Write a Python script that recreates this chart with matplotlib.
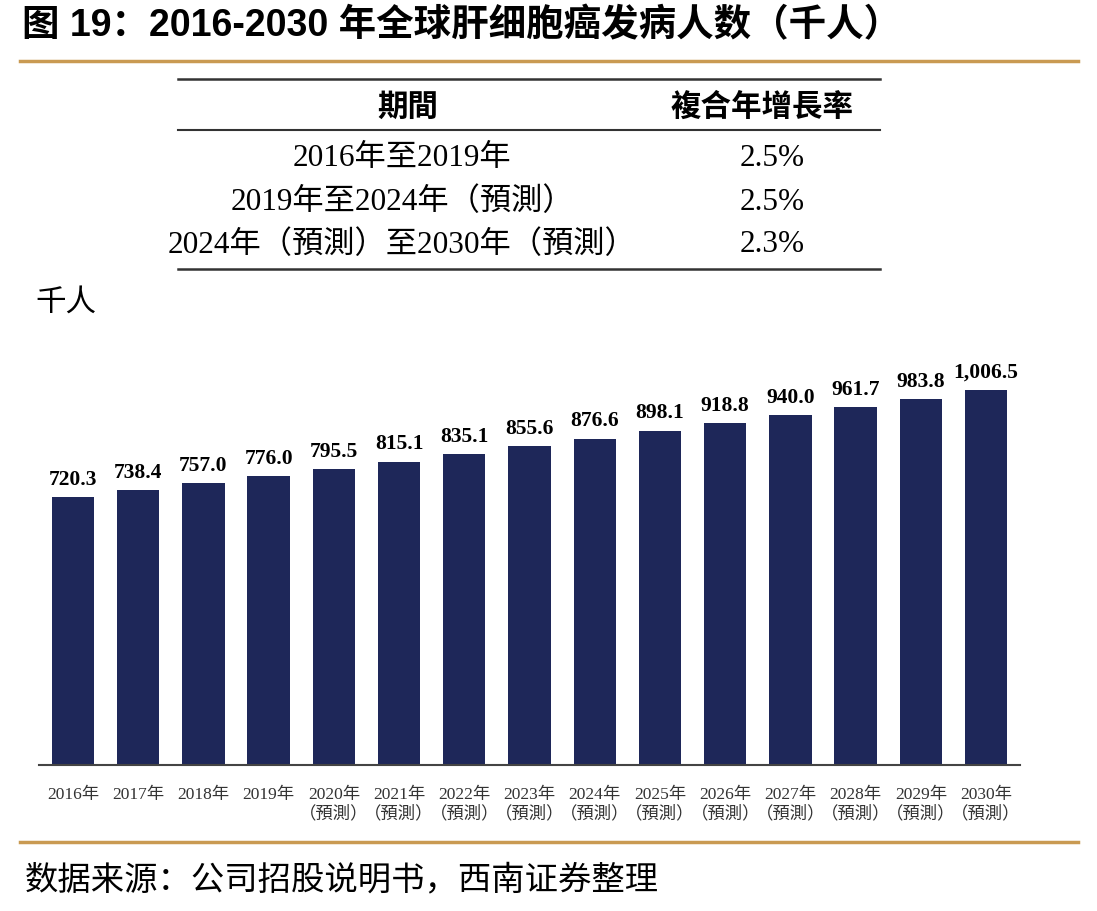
import matplotlib
matplotlib.use("Agg")
import matplotlib.pyplot as plt
from matplotlib.lines import Line2D

years = ["2016年", "2017年", "2018年", "2019年", "2020年", "2021年", "2022年", "2023年",
         "2024年", "2025年", "2026年", "2027年", "2028年", "2029年", "2030年"]
forecast = [False, False, False, False, True, True, True, True, True, True, True, True, True, True, True]
values = [720.3, 738.4, 757.0, 776.0, 795.5, 815.1, 835.1, 855.6, 876.6, 898.1,
          918.8, 940.0, 961.7, 983.8, 1006.5]

table_header = ["期間", "複合年增長率"]
table_periods = ["2016年至2019年", "2019年至2024年（預測）", "2024年（預測）至2030年（預測）"]
table_cagr = ["2.5%", "2.5%", "2.3%"]

title = "图 19：2016-2030 年全球肝细胞癌发病人数（千人）"
unit = "千人"
source = "数据来源：公司招股说明书，西南证券整理"

W, H = 1097, 912
fig = plt.figure(figsize=(W / 100, H / 100), dpi=100)

def fx(px):
    return px / W

def fy(py):
    return 1 - py / H

SERIF = ["Liberation Serif", "Noto Sans CJK TC"]
SANS_B = ["Liberation Sans", "Noto Sans CJK SC"]
GOLD = "#C99A52"
NAVY = "#1E2759"

# Title
fig.text(fx(22), fy(26), title, fontsize=27, fontweight="bold", family=SANS_B,
         ha="left", va="center", color="black")
fig.add_artist(Line2D([fx(20), fx(1078)], [fy(62), fy(62)], color=GOLD, lw=2.5))

# Table
for yy, lw in [(80, 1.8), (131, 1.5), (270, 1.8)]:
    fig.add_artist(Line2D([fx(178), fx(880)], [fy(yy), fy(yy)], color="#333333", lw=lw))
fig.text(fx(408), fy(107), table_header[0], fontsize=22, fontweight="bold",
         family=["Noto Sans CJK TC"], ha="center", va="center")
fig.text(fx(762), fy(107), table_header[1], fontsize=22, fontweight="bold",
         family=["Noto Sans CJK TC"], ha="center", va="center")
row_y = [158, 202, 245]
for p, c, yy in zip(table_periods, table_cagr, row_y):
    fig.text(fx(402), fy(yy), p, fontsize=22.5, family=SERIF, ha="center", va="center")
    fig.text(fx(772), fy(yy), c, fontsize=22.5, family=SERIF, ha="center", va="center")

# Unit
fig.text(fx(35), fy(302), unit, fontsize=22, family=["Noto Sans CJK SC"],
         ha="left", va="center")

# Bars
ax_left, ax_right, ax_bottom, ax_top = 39, 1020, 766, 330
ax = fig.add_axes([fx(ax_left), fy(ax_bottom), fx(ax_right - ax_left), (ax_bottom - ax_top) / H])
x = list(range(len(values)))
ax.bar(x, values, width=0.65, color=NAVY, zorder=2)
ax.set_xlim(-0.52, 14.52)
ax.set_ylim(0, 1171)
for xi, v in zip(x, values):
    ax.text(xi, v + 22, f"{v:,.1f}", ha="center", va="bottom", fontsize=15.5,
            fontweight="bold", family=["Liberation Serif"])
for s in ["top", "right", "left"]:
    ax.spines[s].set_visible(False)
ax.spines["bottom"].set_color("#444444")
ax.spines["bottom"].set_linewidth(1.5)
ax.set_yticks([])
ax.set_xticks(x)
labels = [y + ("\n（預測）" if f else "") for y, f in zip(years, forecast)]
ax.set_xticklabels(labels, fontsize=12.5, family=SERIF, color="#333333", linespacing=1.2)
ax.tick_params(axis="x", length=0, pad=15)
for t in ax.get_xticklabels():
    t.set_verticalalignment("top")

# Bottom line & source
fig.add_artist(Line2D([fx(20), fx(1078)], [fy(843), fy(843)], color=GOLD, lw=2.5))
fig.text(fx(25), fy(880), source, fontsize=24, family=["Noto Sans CJK SC"],
         style="italic", ha="left", va="center", color="black")

fig.savefig("out.png", dpi=100)
